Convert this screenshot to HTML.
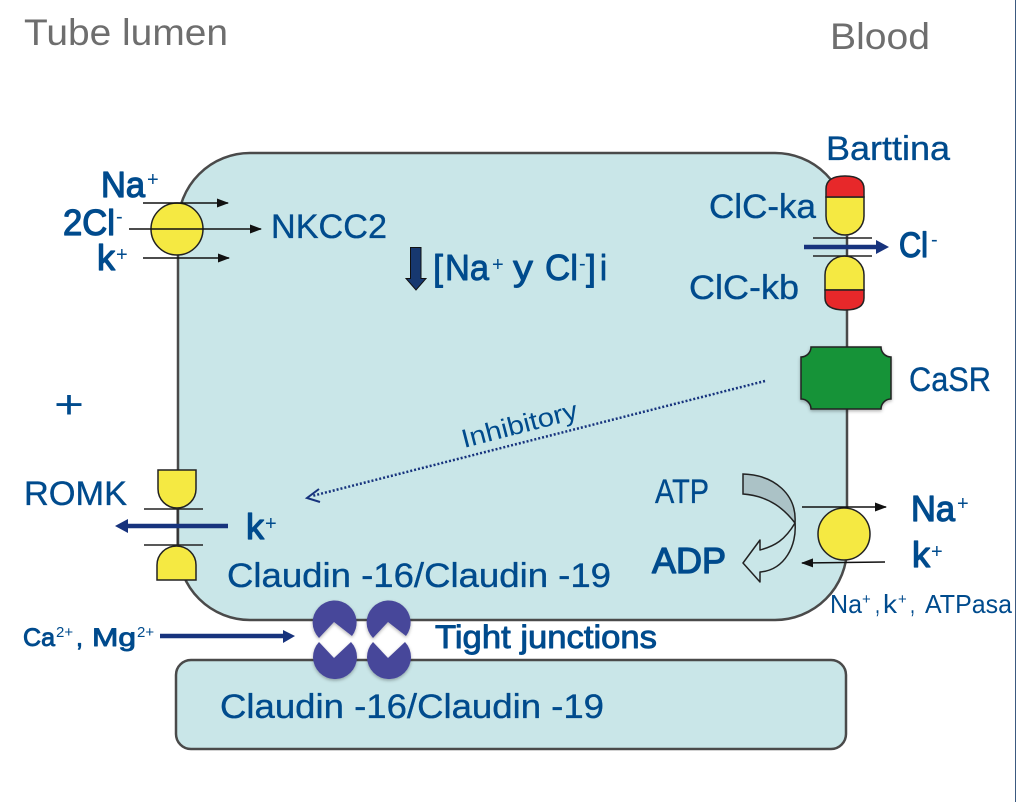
<!DOCTYPE html>
<html><head><meta charset="utf-8"><style>
html,body{margin:0;padding:0;background:#fff}
svg{display:block}
text{font-family:"Liberation Sans","DejaVu Sans",sans-serif;fill:#004b8d}
.b{stroke:#004b8d;stroke-width:1.300px;stroke-linejoin:round}
.m{stroke:#004b8d;stroke-width:.9px;stroke-linejoin:round}
.n{stroke:#004b8d;stroke-width:.35px}
.g{fill:#6e6e6e}
</style></head><body>
<svg width="1016" height="802" viewBox="0 0 1016 802" xmlns="http://www.w3.org/2000/svg">
<defs>
<marker id="k" markerWidth="12" markerHeight="10" refX="11" refY="4.5" orient="auto" markerUnits="userSpaceOnUse"><path d="M0,0L12,4.5L0,9Z" fill="#111"/></marker>
<filter id="s" x="-20%" y="-20%" width="140%" height="140%"><feDropShadow dx="0" dy="1.5" stdDeviation="1.5" flood-color="#000" flood-opacity=".3"/></filter>
</defs>
<rect width="1016" height="802" fill="#fff"/>
<rect x="1015" y="0" width="1" height="802" fill="#3c5a80"/>

<!-- cells -->
<rect x="178" y="153" width="669" height="467" rx="72" ry="72" fill="#c9e6e8" stroke="#4a4a4a" stroke-width="2.500"/>
<rect x="176" y="660" width="670" height="89" rx="15" ry="15" fill="#c9e6e8" stroke="#4a4a4a" stroke-width="2.500"/>

<!-- titles -->
<text class="g" x="24" y="45" font-size="37" textLength="204" lengthAdjust="spacingAndGlyphs">Tube lumen</text>
<text class="g" x="830" y="49" font-size="37" textLength="100" lengthAdjust="spacingAndGlyphs">Blood</text>

<!-- NKCC2 -->
<circle cx="177" cy="229" r="26" fill="#f5e942" stroke="#222" stroke-width="1.500"/>
<g stroke="#111" stroke-width="1.500" fill="none">
<path d="M143,203H228" marker-end="url(#k)"/>
<path d="M129,229H261" marker-end="url(#k)"/>
<path d="M143,258H229" marker-end="url(#k)"/>
</g>
<text class="b" x="101" y="197" font-size="36" textLength="44" lengthAdjust="spacingAndGlyphs">Na</text>
<text x="147" y="186" font-size="20">+</text>
<text class="b" x="63" y="235" font-size="36" textLength="52" lengthAdjust="spacingAndGlyphs">2Cl</text>
<text x="116" y="223" font-size="20">-</text>
<text class="b" x="97" y="270" font-size="36">k</text>
<text x="116" y="261" font-size="20">+</text>
<text class="n" x="271" y="238" font-size="34" textLength="116" lengthAdjust="spacingAndGlyphs">NKCC2</text>

<!-- down arrow and conc -->
<path d="M410.500,247.500H421V278.500H426L416,290L406,278.500H410.500Z" fill="#17386f" stroke="#111" stroke-width="1"/>
<text class="m" x="433" y="280" font-size="36" textLength="10" lengthAdjust="spacingAndGlyphs">[</text>
<text class="m" x="445" y="280" font-size="36" textLength="44" lengthAdjust="spacingAndGlyphs">Na</text>
<text x="492" y="271" font-size="20">+</text>
<text class="m" x="513" y="280" font-size="36" textLength="20" lengthAdjust="spacingAndGlyphs">y</text>
<text class="m" x="545" y="280" font-size="36" textLength="33" lengthAdjust="spacingAndGlyphs">Cl</text>
<text x="579" y="270" font-size="20">-</text>
<text class="m" x="586" y="280" font-size="36" textLength="10" lengthAdjust="spacingAndGlyphs">]</text>
<text class="m" x="600" y="280" font-size="36" textLength="7" lengthAdjust="spacingAndGlyphs">i</text>

<!-- Barttin channel -->
<text class="n" x="826" y="160" font-size="34" textLength="124" lengthAdjust="spacingAndGlyphs">Barttina</text>
<text class="n" x="709" y="218" font-size="34" textLength="107" lengthAdjust="spacingAndGlyphs">ClC-ka</text>
<text class="n" x="689" y="299" font-size="34" textLength="110" lengthAdjust="spacingAndGlyphs">ClC-kb</text>
<path d="M826,197V216A19,19 0 0 0 864,216V197Z" fill="#f5e942" stroke="#222" stroke-width="1.500"/>
<path d="M826,197V189Q826,176 845,176Q864,176 864,189V197Z" fill="#e7282a" stroke="#222" stroke-width="1.500"/>
<path d="M825,290V275A19.500,19 0 0 1 864,275V290Z" fill="#f5e942" stroke="#222" stroke-width="1.500"/>
<path d="M825,290V298Q825,310 845,310Q864,310 864,298V290Z" fill="#e7282a" stroke="#222" stroke-width="1.500"/>
<path d="M847,235V256" stroke="#444" stroke-width="2"/>
<path d="M813,238H872M813,256H872" stroke="#222" stroke-width="1.500"/>
<path d="M804,247H878" stroke="#17337d" stroke-width="4.500"/>
<path d="M876,240L889,247L876,254Z" fill="#17337d"/>
<text class="b" x="899" y="257" font-size="35" textLength="29" lengthAdjust="spacingAndGlyphs">Cl</text>
<text x="931" y="246" font-size="20">-</text>

<!-- CaSR -->
<path d="M811,347H881A10,10 0 0 0 891,357V399A10,10 0 0 0 881,409H811A10,10 0 0 0 801,399V357A10,10 0 0 0 811,347Z" fill="#159339" stroke="#222" stroke-width="1.500" filter="url(#s)"/>
<text class="n" x="909" y="391" font-size="34" textLength="82" lengthAdjust="spacingAndGlyphs">CaSR</text>

<!-- Inhibitory -->
<path d="M765,381L312,496" stroke="#17337d" stroke-width="2.500" stroke-dasharray="2 2" fill="none"/>
<path d="M319,489L307,498L320,502" stroke="#17337d" stroke-width="2" fill="none"/>
<text transform="translate(464,448) rotate(-14.500)" font-size="26" textLength="119" lengthAdjust="spacingAndGlyphs">Inhibitory</text>

<!-- plus -->
<text x="54" y="418" font-size="40" textLength="30" lengthAdjust="spacingAndGlyphs">+</text>

<!-- ROMK -->
<text class="n" x="24" y="505" font-size="34" textLength="103" lengthAdjust="spacingAndGlyphs">ROMK</text>
<path d="M158,470H196V489A19,19 0 0 1 158,489Z" fill="#f5e942" stroke="#222" stroke-width="1.500"/>
<path d="M157,580V565A19.500,19 0 0 1 196,565V580Z" fill="#f5e942" stroke="#222" stroke-width="1.500"/>
<path d="M177.500,508V546" stroke="#333" stroke-width="2"/>
<path d="M144,509H203M144,545H203" stroke="#222" stroke-width="1.500"/>
<path d="M126,526H228" stroke="#17337d" stroke-width="4.500"/>
<path d="M115,526L128,519V533Z" fill="#17337d"/>
<text class="b" x="246" y="539" font-size="36">k</text>
<text x="265" y="530" font-size="20">+</text>

<!-- Claudin labels -->
<text class="n" x="227" y="587" font-size="34" textLength="384" lengthAdjust="spacingAndGlyphs">Claudin -16/Claudin -19</text>
<text class="n" x="220" y="718" font-size="34" textLength="384" lengthAdjust="spacingAndGlyphs">Claudin -16/Claudin -19</text>

<!-- Ca Mg -->
<text class="m" x="23" y="646" font-size="25" textLength="32" lengthAdjust="spacingAndGlyphs">Ca</text>
<text x="56" y="637" font-size="15">2+</text>
<text class="m" x="76" y="646" font-size="25">,</text>
<text class="m" x="92" y="646" font-size="25" textLength="44" lengthAdjust="spacingAndGlyphs">Mg</text>
<text x="137" y="637" font-size="15">2+</text>
<path d="M160,636H285" stroke="#17337d" stroke-width="4.500"/>
<path d="M283,630L295,636L283,643Z" fill="#17337d"/>

<!-- Tight junctions -->
<g fill="#47479a" filter="url(#s)">
<path d="M334,622L319,638A22,22 0 1 1 352,636Z"/>
<path d="M388,622L373,638A22,22 0 1 1 406,636Z"/>
<path d="M334,658L319,642A22,22 0 1 0 351,642Z"/>
<path d="M388,658L373,642A22,22 0 1 0 405,642Z"/>
</g>
<text class="m" x="435" y="648" font-size="32" textLength="222" lengthAdjust="spacingAndGlyphs">Tight junctions</text>

<!-- ATPase -->
<text class="n" x="655" y="503" font-size="34" textLength="54" lengthAdjust="spacingAndGlyphs">ATP</text>
<text class="b" x="652" y="573" font-size="36" textLength="74" lengthAdjust="spacingAndGlyphs">ADP</text>
<path d="M795,523C785,540 775,546 760,550V540L743,563L760,582V572C785,570 797,545 795,523Z" fill="#c9e6e8" stroke="#222" stroke-width="1.500" stroke-linejoin="round"/>
<path d="M743,474C775,475 797,495 795,523C785,510 770,496 743,494Z" fill="#abc2c6" stroke="#222" stroke-width="1.500"/>
<circle cx="844" cy="534" r="26" fill="#f5e942" stroke="#222" stroke-width="1.500"/>
<path d="M802,507H886" stroke="#111" stroke-width="1.500" marker-end="url(#k)"/>
<path d="M885,562L802,563" stroke="#111" stroke-width="1.500" marker-end="url(#k)"/>
<text class="b" x="911" y="521" font-size="36" textLength="44" lengthAdjust="spacingAndGlyphs">Na</text>
<text x="957" y="510" font-size="20">+</text>
<text class="b" x="912" y="567" font-size="36">k</text>
<text x="931" y="558" font-size="20">+</text>
<text x="830" y="613" font-size="26" textLength="32" lengthAdjust="spacingAndGlyphs">Na</text>
<text x="862" y="604" font-size="15">+</text>
<text x="875" y="613" font-size="26" textLength="5" lengthAdjust="spacingAndGlyphs">,</text>
<text x="883" y="613" font-size="26" textLength="14" lengthAdjust="spacingAndGlyphs">k</text>
<text x="898" y="604" font-size="15">+</text>
<text x="910" y="613" font-size="26" textLength="5" lengthAdjust="spacingAndGlyphs">,</text>
<text x="925" y="613" font-size="26" textLength="87" lengthAdjust="spacingAndGlyphs">ATPasa</text>
</svg>
</body></html>
